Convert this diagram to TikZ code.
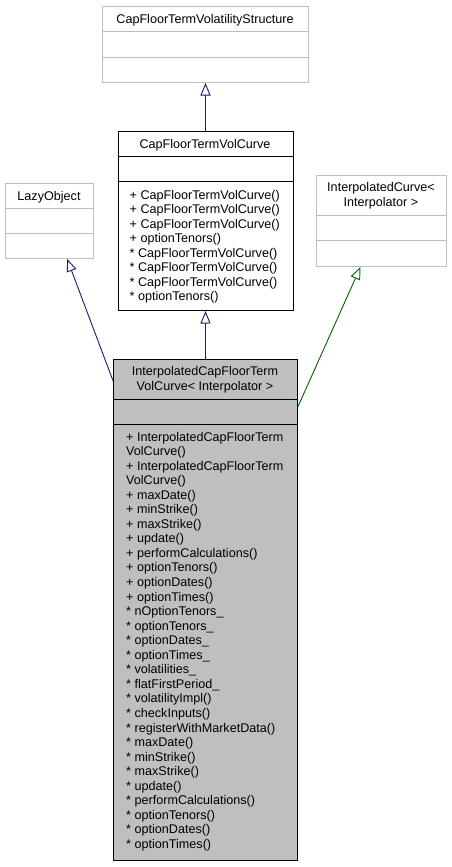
\documentclass[tikz,border=0pt]{standalone}
\usepackage{fontspec}
\setmainfont{Liberation Sans}
\usetikzlibrary{arrows.meta,calc}

\definecolor{edgeblue}{HTML}{191970}
\definecolor{edgegreen}{HTML}{006400}
\definecolor{boxgray}{HTML}{BFBFBF}
\definecolor{focusfill}{HTML}{BFBFBF}

\tikzset{
  cell/.style={rectangle, draw, line width=1pt, inner sep=0pt, anchor=north west},
  extcell/.style={cell, draw=boxgray, fill=white},
  owncell/.style={cell, draw=black},
  focuscell/.style={cell, draw=black, fill=focusfill},
  txt/.style={inner sep=0pt, font=\fontsize{12.6}{14.5}\selectfont},
  title/.style={txt, anchor=base},
  member/.style={txt, anchor=base west},
  inherit/.style={line width=0.9pt, -{Triangle[open, length=12.5pt, width=10pt, fill=white]}},
}

\begin{document}
\begin{tikzpicture}[x=1pt, y=-1pt]
\useasboundingbox (0,0) rectangle (451,867);

% CapFloorTermVolatilityStructure
\node[extcell, minimum width=206pt, minimum height=25pt] (vs-t) at (102,6) {};
\node[extcell, minimum width=206pt, minimum height=26pt] (vs-a) at (102,31) {};
\node[extcell, minimum width=206pt, minimum height=25pt] (vs-m) at (102,57) {};
\node[title] (vs-name) at (205,23.3) {CapFloorTermVolatilityStructure};

% CapFloorTermVolCurve
\node[owncell, minimum width=175pt, minimum height=25pt] (vc-t) at (117.5,131) {};
\node[owncell, minimum width=175pt, minimum height=25pt] (vc-a) at (117.5,156) {};
\node[owncell, minimum width=175pt, minimum height=129pt] (vc-m) at (117.5,181) {};
\node[title] (vc-name) at (205,148.3) {CapFloorTermVolCurve};
\foreach \t [count=\i] in {
  + CapFloorTermVolCurve(),
  + CapFloorTermVolCurve(),
  + CapFloorTermVolCurve(),
  + optionTenors(),
  * CapFloorTermVolCurve(),
  * CapFloorTermVolCurve(),
  * CapFloorTermVolCurve(),
  * optionTenors()}
  \node[member] (vc-m\i) at (129.5,{199+(\i-1)*14.55}) {\t};

% LazyObject
\node[extcell, minimum width=88pt, minimum height=25pt] (lo-t) at (5,183) {};
\node[extcell, minimum width=88pt, minimum height=25pt] (lo-a) at (5,208) {};
\node[extcell, minimum width=88pt, minimum height=25pt] (lo-m) at (5,233) {};
\node[title] (lo-name) at (49,200) {LazyObject};

% InterpolatedCurve< Interpolator >
\node[extcell, minimum width=130pt, minimum height=40pt] (ic-t) at (316,175) {};
\node[extcell, minimum width=130pt, minimum height=25pt] (ic-a) at (316,215) {};
\node[extcell, minimum width=130pt, minimum height=26pt] (ic-m) at (316,240) {};
\node[title] (ic-name1) at (381,191.7) {InterpolatedCurve<};
\node[title] (ic-name2) at (381,206) {Interpolator >};

% InterpolatedCapFloorTermVolCurve< Interpolator >
\node[focuscell, minimum width=183.5pt, minimum height=40pt] (e-t) at (113.3,359) {};
\node[focuscell, minimum width=183.5pt, minimum height=25pt] (e-a) at (113.3,399) {};
\node[focuscell, minimum width=183.5pt, minimum height=436pt] (e-m) at (113.3,424) {};
\node[title] (e-name1) at (205,375.7) {InterpolatedCapFloorTerm};
\node[title] (e-name2) at (205,390) {VolCurve< Interpolator >};
\foreach \t [count=\i] in {
  + InterpolatedCapFloorTerm,
  VolCurve(),
  + InterpolatedCapFloorTerm,
  VolCurve(),
  + maxDate(),
  + minStrike(),
  + maxStrike(),
  + update(),
  + performCalculations(),
  + optionTenors(),
  + optionDates(),
  + optionTimes(),
  * nOptionTenors\_,
  * optionTenors\_,
  * optionDates\_,
  * optionTimes\_,
  * volatilities\_,
  * flatFirstPeriod\_,
  * volatilityImpl(),
  * checkInputs(),
  * registerWithMarketData(),
  * maxDate(),
  * minStrike(),
  * maxStrike(),
  * update(),
  * performCalculations(),
  * optionTenors(),
  * optionDates(),
  * optionTimes()}
  \node[member] (e-m\i) at (126,{441+(\i-1)*14.55}) {\t};

% inheritance edges
\draw[inherit, edgeblue] (vc-t.north) -- (vs-m.south);
\draw[inherit, edgeblue] (e-t.north) -- (vc-m.south);
\draw[inherit, edgeblue] ([yshift=-2pt]e-t.west) -- ([xshift=17.7pt]lo-m.south);
\draw[inherit, edgegreen] ([yshift=-8pt]e-a.north east) -- ([xshift=-21pt]ic-m.south);
\end{tikzpicture}
\end{document}
